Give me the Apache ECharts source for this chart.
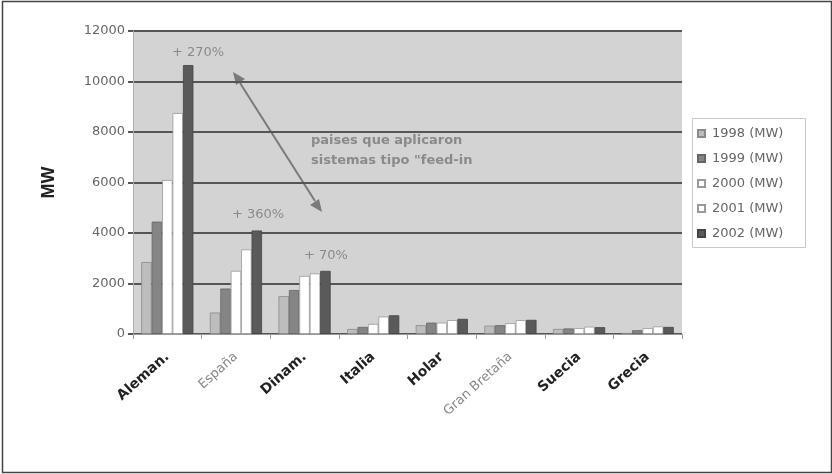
<!DOCTYPE html>
<html>
<head>
<meta charset="utf-8">
<script src="https://cdn.jsdelivr.net/npm/echarts@6/dist/echarts.min.js"></script>
<style>
  html, body { margin: 0; padding: 0; background: #fff; }
  #chart { width: 832px; height: 474px; }
</style>
</head>
<body>
<div id="chart"></div>
<script>
// Installed wind power by country, 1998-2002 (MW)
const countries = ['Aleman.', 'España', 'Dinam.', 'Italia', 'Holar', 'Gran Bretaña', 'Suecia', 'Grecia'];
const years = ['1998 (MW)', '1999 (MW)', '2000 (MW)', '2001 (MW)', '2002 (MW)'];
const mw1998 = [2850, 850, 1500, 200, 350, 330, 200, 40];
const mw1999 = [4450, 1800, 1740, 280, 450, 350, 220, 150];
const mw2000 = [6100, 2500, 2300, 400, 450, 430, 230, 230];
const mw2001 = [8750, 3350, 2400, 690, 550, 550, 290, 300];
const mw2002 = [10650, 4100, 2500, 740, 600, 560, 270, 280];
const yTicks = [0, 2000, 4000, 6000, 8000, 10000, 12000];
const growthNotes = ['+ 270%', '+ 360%', '+ 70%'];

const seriesValues = [mw1998, mw1999, mw2000, mw2001, mw2002];
const fills = ['#bdbdbd', '#858585', '#ffffff', '#ffffff', '#5a5a5a'];
const edges = ['#8a8a8a', '#666666', '#9a9a9a', '#9a9a9a', '#444444'];
const lightLabels = ['España', 'Gran Bretaña'];

const chart = echarts.init(document.getElementById('chart'));
const FONT = 'DejaVu Sans, Liberation Sans, Arial, sans-serif';
const NOTE = '#8a8a8a';

chart.setOption({
  animation: false,
  backgroundColor: '#ffffff',
  textStyle: { fontFamily: FONT },
  grid: {
    left: 133, right: 150, top: 31, bottom: 140,
    show: true, backgroundColor: '#d3d3d3', borderWidth: 0
  },
  legend: {
    orient: 'vertical',
    left: 692, top: 118,
    padding: [8, 4, 8, 5],
    itemGap: 10,
    itemWidth: 7, itemHeight: 7,
    icon: 'rect',
    borderWidth: 0,
    textStyle: { color: '#666', fontSize: 13, lineHeight: 15, fontFamily: FONT, padding: [0, 0, 0, 2] },
    data: years
  },
  xAxis: {
    type: 'category',
    data: countries,
    axisLine: { show: true, lineStyle: { color: '#9a9a9a', width: 1 } },
    axisTick: { show: true, length: 5, lineStyle: { color: '#9a9a9a' } },
    axisLabel: {
      rotate: 42,
      margin: 21,
      interval: 0,
      formatter: v => lightLabels.includes(v) ? '{l|' + v + '}' : '{b|' + v + '}',
      rich: {
        b: { fontSize: 14, fontWeight: 'bold', color: '#222', fontFamily: FONT },
        l: { fontSize: 13, color: '#888', fontFamily: FONT }
      }
    }
  },
  yAxis: {
    type: 'value',
    min: yTicks[0], max: yTicks[yTicks.length - 1], interval: 2000,
    name: 'MW',
    nameLocation: 'middle',
    nameGap: 75,
    nameTextStyle: { fontSize: 18, fontWeight: 'bold', color: '#222', fontFamily: 'Liberation Sans, Arial, sans-serif' },
    axisLine: { show: true, lineStyle: { color: '#b0b0b0' } },
    axisTick: { show: true, length: 5, lineStyle: { color: '#555', width: 2 } },
    axisLabel: { color: '#666', fontSize: 13, margin: 8, fontFamily: FONT, formatter: v => String(v) },
    splitLine: { show: true, lineStyle: { color: '#555', width: 2 } }
  },
  series: seriesValues.map((vals, i) => ({
    name: years[i],
    type: 'bar',
    data: vals,
    barGap: '0%',
    barCategoryGap: '24%',
    itemStyle: { color: fills[i], borderColor: edges[i], borderWidth: 0.8 }
  })),
  graphic: [
    // outer frame
    {
      type: 'rect', silent: true, z: 100,
      shape: { x: 2.5, y: 1.5, width: 829, height: 471 },
      style: { fill: null, stroke: '#444', lineWidth: 1.5 }
    },
    // legend box
    {
      type: 'rect', silent: true, z: 0,
      shape: { x: 692.5, y: 118.5, width: 113, height: 129 },
      style: { fill: null, stroke: '#c8c8c8', lineWidth: 1 }
    },
    // growth notes
    { type: 'text', x: 198, y: 53, style: { text: growthNotes[0], fill: NOTE, font: '13px ' + FONT, align: 'center', verticalAlign: 'middle' } },
    { type: 'text', x: 258, y: 215, style: { text: growthNotes[1], fill: NOTE, font: '13px ' + FONT, align: 'center', verticalAlign: 'middle' } },
    { type: 'text', x: 326, y: 256, style: { text: growthNotes[2], fill: NOTE, font: '13px ' + FONT, align: 'center', verticalAlign: 'middle' } },
    // feed-in note
    {
      type: 'text', x: 311, y: 131,
      style: { text: 'paises que aplicaron\nsistemas tipo "feed-in', fill: NOTE, font: 'bold 13px ' + FONT, lineHeight: 20 }
    },
    // double-headed arrow
    {
      type: 'line', shape: { x1: 240, y1: 83, x2: 315, y2: 201 },
      style: { stroke: '#7a7a7a', lineWidth: 2 }
    },
    {
      type: 'polygon', shape: { points: [[233, 72], [245, 79], [236, 85]] },
      style: { fill: '#7a7a7a' }
    },
    {
      type: 'polygon', shape: { points: [[322, 212], [310, 205], [319, 199]] },
      style: { fill: '#7a7a7a' }
    }
  ]
});
</script>
</body>
</html>
